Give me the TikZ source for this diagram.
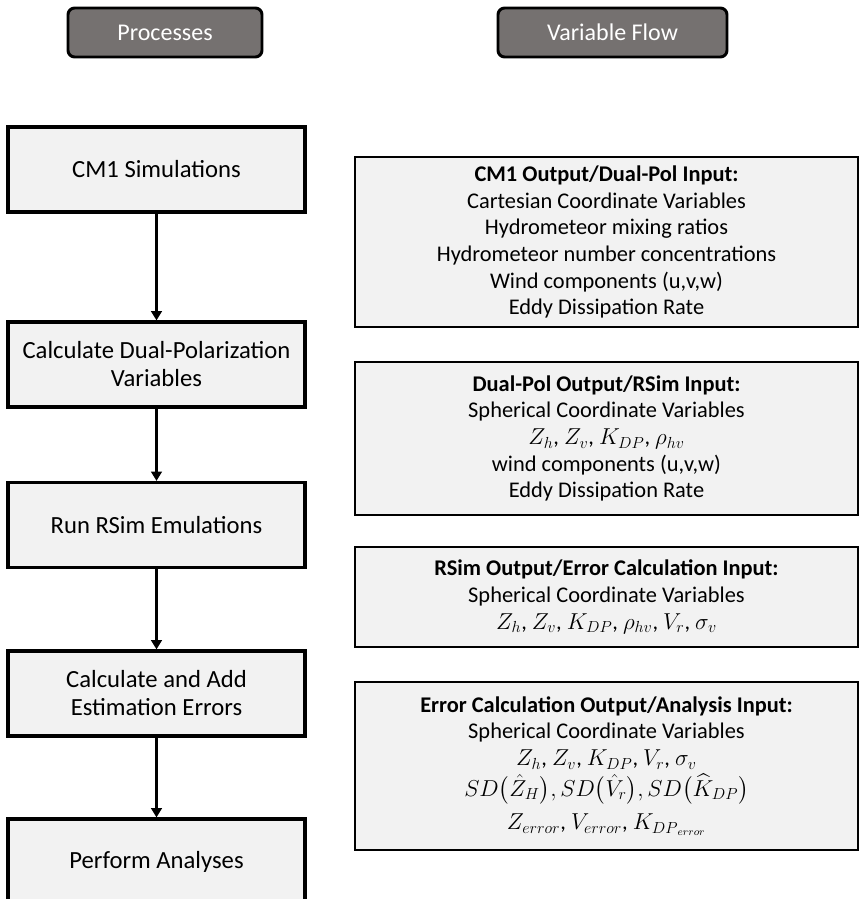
\documentclass[tikz,border=0pt]{standalone}
\usepackage{amsmath}
\usepackage{fontspec}
\setmainfont{Carlito}
\usepackage{tikz}
\usetikzlibrary{arrows.meta}

\definecolor{hdrgray}{RGB}{117,113,112}
\definecolor{boxgray}{RGB}{242,242,242}

\begin{document}
\begin{tikzpicture}[x=0.75pt,y=-0.75pt,
	header/.style={draw=black,line width=2.2pt,rounded corners=5pt,fill=hdrgray,text=white,
		minimum height=36.75pt,font=\fontsize{18}{21}\selectfont},
	process/.style={draw=black,line width=2.4pt,fill=boxgray,minimum width=222.75pt,
		minimum height=63.75pt,align=center,font=\fontsize{18.5}{21}\selectfont},
	varbox/.style={draw=black,line width=2.2pt,fill=boxgray,minimum width=377.25pt,
		align=center,font=\fontsize{16.8}{20}\selectfont},
	flow/.style={line width=2.2pt,-{Triangle[length=7pt,width=8pt]}}]
	\useasboundingbox (0,0) rectangle (860,899);
	
	%headers
	\node[header,minimum width=145.5pt] (hproc) at (165,32.5) {Processes};
	\node[header,minimum width=171.75pt] (hvar) at (612.5,32.5) {Variable Flow};
	
	%process boxes
	\node[process] (cm1) at (156.5,169.5) {CM1 Simulations};
	\node[process] (dualpol) at (156.5,364.5) {Calculate Dual-Polarization\\Variables};
	\node[process] (rsim) at (156.5,525) {Run RSim Emulations};
	\node[process] (adderr) at (156.5,693.5) {Calculate and Add\\Estimation Errors};
	\node[process] (analyses) at (156.5,861.5) {Perform Analyses};
	
	%arrows
	\draw[flow] (cm1) -- (dualpol);
	\draw[flow] (dualpol) -- (rsim);
	\draw[flow] (rsim) -- (adderr);
	\draw[flow] (adderr) -- (analyses);
	
	%variable boxes
	\node[varbox,minimum height=127.5pt] (cm1out) at (606.5,242) {\textbf{CM1 Output/Dual-Pol Input:}\\
		Cartesian Coordinate Variables\\Hydrometeor mixing ratios\\Hydrometeor number concentrations\\
		Wind components (u,v,w)\\Eddy Dissipation Rate};
	\node[varbox,minimum height=114.75pt] (dpout) at (606.5,438.5) {\textbf{Dual-Pol Output/RSim Input:}\\
		Spherical Coordinate Variables\\$Z_h$, $Z_v$, $K_{DP}$, $\rho_{hv}$\\
		wind components (u,v,w)\\Eddy Dissipation Rate};
	\node[varbox,minimum height=75pt] (rsimout) at (606.5,597) {\textbf{RSim Output/Error Calculation Input:}\\
		Spherical Coordinate Variables\\$Z_h$, $Z_v$, $K_{DP}$, $\rho_{hv}$, $V_r$, $\sigma_v$};
	\node[varbox,minimum height=126pt] (errout) at (606.5,766) {\textbf{Error Calculation Output/Analysis Input:}\\
		Spherical Coordinate Variables\\$Z_h$, $Z_v$, $K_{DP}$, $V_r$, $\sigma_v$\\[3pt]
		$SD\big(\hat{Z}_H\big), SD\big(\hat{V}_r\big), SD\big(\widehat{K}_{DP}\big)$\\[5pt]
		$Z_{error}$, $V_{error}$, $K_{{DP}_{error}}$};
\end{tikzpicture}
\end{document}
